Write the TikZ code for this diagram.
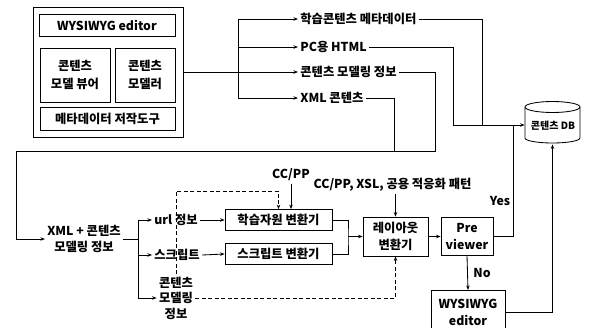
\documentclass[tikz,border=0pt]{standalone}
\usepackage{fontspec}
\setmainfont{Noto Sans CJK KR}
\usetikzlibrary{arrows.meta,calc}
\begin{document}
\begin{tikzpicture}[x=1pt,y=-1pt, line width=0.85pt,
  box/.style={draw, inner sep=1pt, align=center, font=\bfseries\fontsize{12.3}{17.5}\selectfont},
  lbl/.style={inner sep=2pt, align=center, font=\bfseries\fontsize{12.3}{15.5}\selectfont},
  arr/.style={-{Stealth[length=4.5pt,width=3.5pt]}},
  dsh/.style={dash pattern=on 4pt off 2.5pt}]
\clip (0,0) rectangle (591,327);
% top block
\node[box, minimum width=150pt, minimum height=130pt] (outer) at (108,72) {};
\node[box, minimum width=136pt, minimum height=22pt] (wys) at (107,25) {WYSIWYG editor};
\node[box, minimum width=70pt, minimum height=54pt] (viewer) at (75,75) {콘텐츠\\모델 뷰어};
\node[box, minimum width=60pt, minimum height=54pt] (modeler) at (145,75) {콘텐츠\\모델러};
\node[box, minimum width=135pt, minimum height=23pt] (meta) at (107.5,118.5) {메타데이터 저작도구};
% outputs
\node[lbl, anchor=west] (l1) at (298,19) {학습콘텐츠 메타데이터};
\node[lbl, anchor=west] (l2) at (298,47) {PC용 HTML};
\node[lbl, anchor=west] (l3) at (298,72) {콘텐츠 모델링 정보};
\node[lbl, anchor=west] (l4) at (298,98) {XML 콘텐츠};
\coordinate (s1) at (238,72);
\draw (outer.east) -- (s1);
\draw[arr] (s1) |- (l1.west);
\draw[arr] (s1) |- (l2.west);
\draw[arr] (s1) -- (l3.west);
\draw[arr] (s1) |- (l4.west);
% DB
\node[minimum width=55pt, minimum height=42pt, inner sep=0pt] (db) at (552.5,123) {};
\node[inner sep=0pt, font=\bfseries\fontsize{10}{11}\selectfont] (dbt) at (553,126) {콘텐츠 DB};
\draw (525,107) -- (525,138) arc[start angle=180,end angle=360,x radius=27.5pt,y radius=5pt] -- (580,107);
\draw (552.5,107) ellipse [x radius=27.5pt, y radius=5.5pt];
\draw (l1.east) -| (482,125);
\draw[arr] (l2.east) -| (453,125) -- (db.west |- 0,125);
\draw (l4.east) -| (394,151);
% lower
\node[lbl] (xmlin) at (84,239) {XML + 콘텐츠\\모델링 정보};
\draw[arr] (l3.east) -| (435,151) -| (16,239) -- (xmlin.west);
\node[lbl, anchor=west] (url) at (152,220) {url 정보};
\node[lbl, anchor=west] (scr) at (152,255) {스크립트};
\node[lbl] (cmi) at (176,298) {콘텐츠\\모델링\\정보};
\coordinate (s2) at (138,239);
\draw (xmlin.east) -- (s2);
\draw[arr] (s2) |- (url.west);
\draw[arr] (s2) |- (scr.west);
\draw[arr] (s2) |- (cmi.west);
\node[box, minimum width=107pt, minimum height=21pt] (rc) at (278.5,220) {학습자원 변환기};
\node[box, minimum width=107pt, minimum height=21pt] (sc) at (278.5,254) {스크립트 변환기};
\draw[arr] (url.east) -- (rc.west);
\draw[arr] (scr.east) -- (sc.west);
\node[lbl] (cc1) at (291,175) {CC/PP};
\draw[arr] (cc1.south) -- (cc1.south |- rc.north);
\draw[arr, dsh] (cmi.north) |- ($(rc.north)+(0,-18)$) -- (rc.north);
\node[box, minimum width=65pt, minimum height=39pt] (lay) at (395.5,236.5) {레이아웃\\변환기};
\coordinate (m) at (348,236.5);
\draw (rc.east) -| (m) |- (sc.east);
\draw[arr] (m) -- (lay.west);
\node[lbl] (cc2) at (392.5,185) {CC/PP, XSL, 공용 적응화 패턴};
\draw[arr] (cc2.south -| lay.north) -- (lay.north);
\draw[arr, dsh] (cmi.east) -- (cmi.east -| lay.south) -- (lay.south);
\node[box, minimum width=52pt, minimum height=38pt] (prev) at (467,236.5) {Pre\\viewer};
\draw[arr] (lay.east) -- (prev.west);
\draw (prev.east) -- (513,236.5) -- (513,125);
\node[lbl] (yes) at (500,201) {Yes};
\node[box, minimum width=74pt, minimum height=44pt, anchor=north] (wys2) at (468,290) {WYSIWYG\\editor};
\draw[arr] (prev.south) -- (wys2.north);
\node[lbl] (no) at (482,273) {No};
\draw[arr] (wys2.east) -| (db.south);
\end{tikzpicture}
\end{document}
